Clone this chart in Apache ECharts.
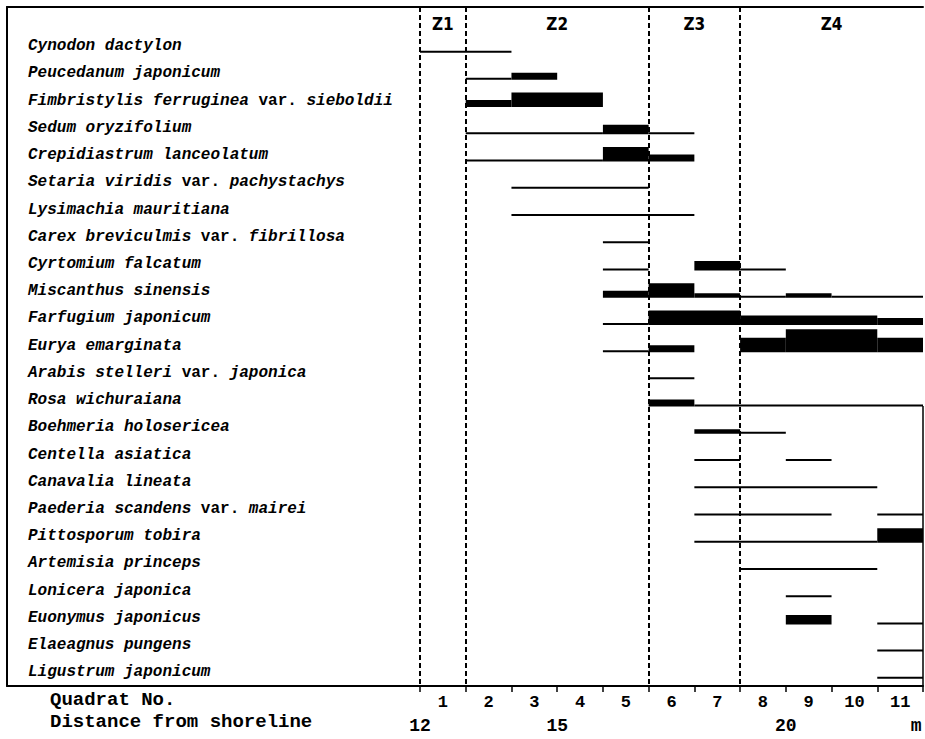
<!DOCTYPE html>
<html>
<head>
<meta charset="utf-8">
<script src="https://cdn.jsdelivr.net/npm/echarts@6/dist/echarts.min.js"></script>
<style>
  html, body { margin: 0; padding: 0; background: #fff; }
  #chart { width: 925px; height: 739px; }
</style>
</head>
<body>
<div id="chart"></div>
<script>
// ---------------- data ----------------
const species = [
  'Cynodon dactylon',
  'Peucedanum japonicum',
  'Fimbristylis ferruginea var. sieboldii',
  'Sedum oryzifolium',
  'Crepidiastrum lanceolatum',
  'Setaria viridis var. pachystachys',
  'Lysimachia mauritiana',
  'Carex breviculmis var. fibrillosa',
  'Cyrtomium falcatum',
  'Miscanthus sinensis',
  'Farfugium japonicum',
  'Eurya emarginata',
  'Arabis stelleri var. japonica',
  'Rosa wichuraiana',
  'Boehmeria holosericea',
  'Centella asiatica',
  'Canavalia lineata',
  'Paederia scandens var. mairei',
  'Pittosporum tobira',
  'Artemisia princeps',
  'Lonicera japonica',
  'Euonymus japonicus',
  'Elaeagnus pungens',
  'Ligustrum japonicum'
];

// occurrence segments per species: [from quadrat boundary, to quadrat boundary, cover class]
const occurrence = [
  [[0, 2, 1]],
  [[1, 2, 1], [2, 3, 3]],
  [[1, 2, 3], [2, 4, 5]],
  [[1, 4, 1], [4, 5, 4], [5, 6, 1]],
  [[1, 4, 1], [4, 5, 5], [5, 6, 3]],
  [[2, 5, 1]],
  [[2, 6, 1]],
  [[4, 5, 1]],
  [[4, 5, 1], [6, 7, 4], [7, 8, 1]],
  [[4, 5, 3], [5, 6, 5], [6, 7, 2], [7, 8, 1], [8, 9, 2], [9, 11, 1]],
  [[4, 5, 1], [5, 7, 5], [7, 10, 4], [10, 11, 3]],
  [[4, 5, 1], [5, 6, 3], [7, 8, 5], [8, 10, 6], [10, 11, 5]],
  [[5, 6, 1]],
  [[5, 6, 3], [6, 11, 1]],
  [[6, 7, 2], [7, 8, 1]],
  [[6, 7, 1], [8, 9, 1]],
  [[6, 10, 1]],
  [[6, 9, 1], [10, 11, 1]],
  [[6, 10, 1], [10, 11, 5]],
  [[7, 10, 1]],
  [[8, 9, 1]],
  [[8, 9, 4], [10, 11, 1]],
  [[10, 11, 1]],
  [[10, 11, 1]]
];

const quadratNumbers = ['1', '2', '3', '4', '5', '6', '7', '8', '9', '10', '11'];
const zoneNames = ['Z1', 'Z2', 'Z3', 'Z4'];
const zoneBounds = [0, 1, 5, 7, 11];
const distanceTicks = [12, 15, 20];   // metres from shoreline
const distanceAtStart = 12;           // distance at the left edge of quadrat 1 (1 m per quadrat)
const distanceUnit = 'm';

// ---------------- styling ----------------
const coverThickness = { 1: 2, 2: 4.5, 3: 7, 4: 9.5, 5: 14.5, 6: 23 };
const monoFont = "'Liberation Mono', 'DejaVu Sans Mono', monospace";

const segData = [];
occurrence.forEach((segs, row) => segs.forEach(s => segData.push([s[0], s[1], row, s[2]])));

const quadratCenters = quadratNumbers.map((q, i) => i + 0.5);
const quadratEdges = quadratNumbers.map((q, i) => i).concat([quadratNumbers.length]);
const zoneCenters = zoneNames.map((z, i) => (zoneBounds[i] + zoneBounds[i + 1]) / 2);
const distPositions = distanceTicks.map(d => d - distanceAtStart);
const unitPos = quadratNumbers.length - 0.15;

function speciesLabel(name) {
  const parts = name.split(' var. ');
  if (parts.length === 2) {
    return '{i|' + parts[0] + ' }{r|var.}{i| ' + parts[1] + '}';
  }
  return '{i|' + name + '}';
}

const chart = echarts.init(document.getElementById('chart'), null, { renderer: 'svg' });

const xMin = -9.032, xMax = 11;

chart.setOption({
  animation: false,
  backgroundColor: '#fff',
  grid: { left: 7, right: 2, top: 7, bottom: 53, containLabel: false },
  xAxis: [
    {
      type: 'value', position: 'bottom', min: xMin, max: xMax, offset: 0,
      splitLine: { show: false },
      axisLine: { show: true, onZero: false, lineStyle: { color: '#000', width: 2 } },
      axisTick: { show: true, customValues: quadratEdges, length: 6, lineStyle: { color: '#000', width: 1.5 } },
      axisLabel: {
        show: true, customValues: quadratCenters, margin: 8,
        formatter: v => quadratNumbers[Math.round(v - 0.5)] || '',
        fontFamily: monoFont, fontWeight: 'bold', fontSize: 17, color: '#000'
      }
    },
    {
      type: 'value', position: 'top', min: xMin, max: xMax, offset: 0,
      splitLine: { show: false },
      axisLine: { show: true, onZero: false, lineStyle: { color: '#000', width: 2 } },
      axisTick: { show: false },
      axisLabel: {
        show: true, inside: true, customValues: zoneCenters, margin: 8,
        formatter: v => zoneNames[zoneCenters.indexOf(v)] || '',
        fontFamily: "'DejaVu Sans Condensed', 'DejaVu Sans', sans-serif", fontWeight: 'bold', fontSize: 17, color: '#000'
      }
    },
    {
      type: 'value', position: 'bottom', min: xMin, max: xMax, offset: 0,
      splitLine: { show: false },
      axisLine: { show: false },
      axisTick: { show: false },
      axisLabel: {
        show: true, customValues: distPositions.concat([unitPos]), margin: 31,
        formatter: v => {
          const i = distPositions.indexOf(v);
          return i >= 0 ? String(distanceTicks[i]) : distanceUnit;
        },
        fontFamily: monoFont, fontWeight: 'bold', fontSize: 18, color: '#000'
      }
    }
  ],
  yAxis: {
    type: 'value', inverse: true, min: -1.64, max: 23.3,
    splitLine: { show: false },
    axisLine: { show: true, onZero: false, lineStyle: { color: '#000', width: 2 } },
    axisTick: { show: false },
    axisLabel: {
      show: true, inside: true, margin: 21,
      customValues: species.map((s, i) => i),
      formatter: v => speciesLabel(species[v]),
      padding: [0, 0, 11, 0],
      rich: {
        i: { fontFamily: monoFont, fontStyle: 'italic', fontWeight: 'bold', fontSize: 16, color: '#000' },
        r: { fontFamily: monoFont, fontStyle: 'normal', fontWeight: 'bold', fontSize: 16, color: '#000' }
      }
    }
  },
  graphic: [
    { type: 'text', x: 50, y: 700, style: { text: 'Quadrat No.', font: "bold 19px 'Liberation Mono', monospace", fill: '#000', textVerticalAlign: 'middle' } },
    { type: 'text', x: 50, y: 722, style: { text: 'Distance from shoreline', font: "bold 19px 'Liberation Mono', monospace", fill: '#000', textVerticalAlign: 'middle' } },
    { type: 'line', shape: { x1: 923, y1: 406, x2: 923, y2: 686 }, style: { stroke: '#000', lineWidth: 1.5 } }
  ],
  series: [
    {
      type: 'custom',
      xAxisIndex: 0, yAxisIndex: 0,
      data: segData,
      encode: { x: [0, 1], y: 2 },
      renderItem: function (params, api) {
        const row = api.value(2);
        const a = api.coord([api.value(0), row]);
        const b = api.coord([api.value(1), row]);
        const h = coverThickness[api.value(3)];
        return {
          type: 'rect',
          shape: { x: a[0], y: a[1] + 1 - h, width: b[0] - a[0], height: h },
          style: { fill: '#000' }
        };
      },
      markLine: {
        silent: true,
        symbol: ['none', 'none'],
        label: { show: false },
        lineStyle: { color: '#000', width: 2, type: [5, 3] },
        data: zoneBounds.slice(0, 4).map(b => ({ xAxis: b }))
      }
    }
  ]
});
</script>
</body>
</html>
